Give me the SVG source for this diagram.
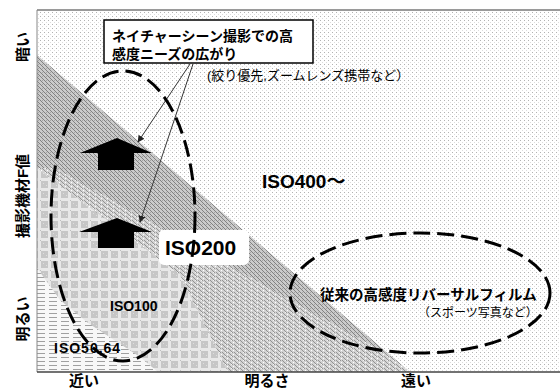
<svg xmlns="http://www.w3.org/2000/svg" width="560" height="388" viewBox="0 0 560 388">
<style>
text{font-family:"Liberation Sans","Noto Sans CJK JP",sans-serif;fill:#000}
.b{font-weight:bold}
.ax{font-size:15px;font-weight:bold}
.dash{fill:none;stroke:#000;stroke-width:3;stroke-dasharray:17 7}
.lead{stroke:#333;stroke-width:1;fill:none;marker-end:url(#ah)}
</style>
<defs>
<pattern id="pDots" width="4" height="4" patternUnits="userSpaceOnUse"><rect width="4" height="4" fill="#fff"/><rect width="1" height="1" fill="#b2b2b2"/><rect x="2" y="2" width="1" height="1" fill="#dcdcdc"/></pattern>
<pattern id="pHatch" width="4" height="4" patternUnits="userSpaceOnUse"><rect width="4" height="4" fill="#cbcbcb"/><path d="M0 0h1v1H0zM1 1h1v1H1zM2 2h1v1H2zM3 3h1v1H3z" fill="#818181"/><rect x="2" y="0" width="1" height="1" fill="#a4a4a4"/></pattern>
<pattern id="pHatchL" width="6" height="4" patternUnits="userSpaceOnUse"><rect width="6" height="4" fill="#d3d3d3"/><path d="M0 0h1v1H0zM1 1h1v1H1zM2 2h1v1H2zM3 3h1v1H3zM4 0h1v1H4z" fill="#939393"/><rect x="5" y="2" width="1" height="1" fill="#fff"/><rect x="3" y="0" width="1" height="1" fill="#f4f4f4"/></pattern>
<pattern id="pCheck" width="10" height="10" patternUnits="userSpaceOnUse"><rect width="10" height="10" fill="#e8e8e8"/><rect x="1" y="1" width="7" height="7" fill="#c6c6c6"/><rect x="3" y="3" width="1" height="1" fill="#dedede"/><rect x="6" y="5" width="1" height="1" fill="#dedede"/><rect x="0" y="0" width="1" height="1" fill="#bdbdbd"/></pattern>
<pattern id="pLines" width="12" height="4" patternUnits="userSpaceOnUse"><rect width="12" height="4" fill="#f8f8f8"/><rect x="1" y="1" width="8" height="1" fill="#a0a0a0"/></pattern>
<clipPath id="bandClip"><polygon points="37,55 410,372 228,372 180,275 37,168"/></clipPath>
<marker id="ah" viewBox="0 0 10 10" refX="9" refY="5" markerWidth="7" markerHeight="7" markerUnits="userSpaceOnUse" orient="auto"><path d="M0,0 L10,5 L0,10 z" fill="#222"/></marker>
</defs>
<rect width="560" height="388" fill="#fff"/>
<g id="regions">
<rect x="37" y="10" width="523" height="362" fill="url(#pDots)"/>
<polygon points="37,55 410,372 228,372 180,275 37,168" fill="url(#pHatch)"/>
<polygon clip-path="url(#bandClip)" points="55,168 430,378 228,378 180,275 37,168" fill="url(#pHatchL)"/>
<polygon points="37,168 180,275 228,372 37,372" fill="url(#pCheck)"/>
<polygon points="37,268 60,300 88,323 140,357 158,372 37,372" fill="url(#pLines)"/>
</g>
<g id="frame">
<line x1="37" y1="10" x2="560" y2="10" stroke="#9a9a9a" stroke-width="2"/>
<line x1="37" y1="10" x2="37" y2="372" stroke="#888" stroke-width="1"/>
<line x1="37" y1="372" x2="560" y2="372" stroke="#444" stroke-width="1.5"/>
</g>
<g id="axis-labels">
<text class="ax" text-anchor="middle" transform="translate(28,47) rotate(-90)">暗い</text>
<text class="ax" text-anchor="middle" transform="translate(28,196) rotate(-90)">撮影機材F値</text>
<text class="ax" text-anchor="middle" transform="translate(28,319) rotate(-90)">明るい</text>
<text class="ax" text-anchor="middle" x="84" y="386">近い</text>
<text class="ax" text-anchor="middle" x="267" y="386">明るさ</text>
<text class="ax" text-anchor="middle" x="416" y="386">遠い</text>
</g>
<g id="zone-labels">
<text class="b" x="262" y="188" font-size="19">ISO400～</text>
<rect x="159" y="230" width="90" height="35" rx="5" fill="#fff"/>
<text class="b" x="165" y="255" font-size="21">ISO200</text>
<text class="b" x="110" y="311" font-size="14">ISO100</text>
<text class="b" x="54" y="353" font-size="14" letter-spacing="1">ISO50,64</text>
</g>
<g id="up-arrows">
<polygon points="117,138 152,153 134,153 134,170 98,170 98,153 80,153" fill="#000"/>
<polygon points="117,218 152,232 134,232 134,248 98,248 98,232 79,232" fill="#000"/>
</g>
<g id="callout">
<rect x="104" y="20" width="209" height="43" fill="#fff" stroke="#000" stroke-width="1.5"/>
<text class="b" x="112" y="41" font-size="14">ネイチャーシーン撮影での高</text>
<text class="b" x="112" y="59" font-size="14">感度ニーズの広がり</text>
<text x="207" y="80" font-size="13">(絞り優先,ズームレンズ携帯など）</text>
</g>
<g id="connectors">
<line class="lead" x1="190" y1="64" x2="138" y2="142"/>
<line class="lead" x1="193" y1="64" x2="140" y2="222"/>
</g>
<g id="ellipse-nature">
<ellipse class="dash" cx="123" cy="216" rx="72" ry="145"/>
</g>
<g id="ellipse-reversal">
<ellipse class="dash" cx="420" cy="293" rx="130" ry="60"/>
<text class="b" x="320" y="300" font-size="14.5">従来の高感度リバーサルフィルム</text>
<text x="418" y="317" font-size="12" fill="#333">（スポーツ写真など）</text>
</g>
</svg>
